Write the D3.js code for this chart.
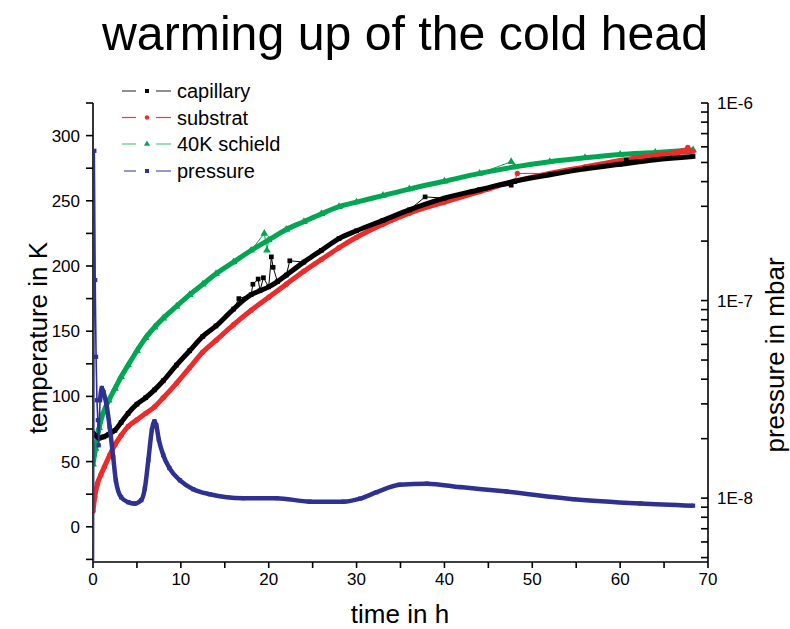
<!DOCTYPE html>
<html>
<head>
<meta charset="utf-8">
<script src="https://cdn.jsdelivr.net/npm/d3@7"></script>
<style>
  html, body { margin: 0; padding: 0; background: #ffffff; }
  svg { display: block; font-family: "Liberation Sans", Arial, sans-serif; }
</style>
</head>
<body>
<svg id="chart" width="790" height="629"></svg>
<script>
// ---- data -------------------------------------------------------------
// time in hours and temperature in K, one pair of arrays per sensor
const capillaryTime = [0, 0.3, 0.7, 1.2, 1.8, 2.5, 3.2, 4, 5, 6, 7, 8, 9.5, 11, 12.5, 14, 16, 18, 19, 20, 21, 22, 24, 26, 28, 30, 33, 36, 40, 44, 48, 52, 56, 60, 64, 68.3];
const capillaryTemp = [72, 70, 68, 69, 71, 74, 80, 87, 94, 99, 105, 112, 124, 135, 146, 154, 167, 178, 181, 184, 188, 193, 203, 212, 221, 227, 235, 243, 252, 258.5, 265, 270, 274.5, 278, 281.5, 284];
// isolated outliers of the capillary sensor
const capillarySpikeTime = [16.6, 18.2, 18.8, 19.4, 20.3, 20.5, 22.4, 37.8, 47.6, 60.7];
const capillarySpikeTemp = [175, 186, 190, 191, 207, 199, 204, 253, 262, 281];

const substratTime = [0, 0.2, 0.5, 0.9, 1.3, 1.9, 2.5, 3.2, 4, 5, 6, 7, 8, 9.5, 11, 12.5, 14, 16, 18, 20, 22, 24, 26, 28, 30, 33, 36, 40, 44, 48, 52, 56, 60, 64, 68.3];
const substratTemp = [12, 23, 33, 40, 46, 55, 63, 70, 77, 82, 87, 92, 99, 110, 122, 134, 143, 155, 166, 176, 186, 196, 205, 214, 222, 232, 240.5, 249, 257, 265, 271, 276, 281, 285, 288];
const substratSpikeTime = [48.3, 67.7];
const substratSpikeTemp = [271, 291];

const shieldTime = [0, 0.3, 0.7, 1.2, 1.8, 2.5, 3.2, 4, 5, 6, 7, 8, 9.5, 11, 12.5, 14, 16, 18, 20, 22, 24, 26, 28, 30, 33, 36, 40, 44, 48, 52, 56, 60, 64, 68.3];
const shieldTemp = [48, 60, 76, 88, 97, 106, 115, 124, 135, 145, 153, 160, 169, 178, 186, 194, 203, 212, 220, 228, 234, 240, 245.5, 249, 254, 259, 265, 271, 276, 280, 283, 285.5, 287, 289];
const shieldSpikeTime = [19.5, 19.8, 47.6];
const shieldSpikeTemp = [225, 212, 280];

// chamber pressure in mbar
const pressureTime = [0.05, 0.15, 0.25, 0.35, 0.45, 0.55, 0.65, 0.8, 1.0, 1.2, 1.5, 1.9, 2.3, 2.6, 3.2, 4.0, 4.7, 5.5, 5.9, 6.3, 6.7, 7.0, 7.2, 7.5, 8.0, 8.7, 9.9, 11.4, 13.3, 17.1, 20.9, 24.7, 28.5, 30.4, 32.3, 34.9, 38, 41.8, 47.1, 54.7, 62.3, 68.3];
const pressureValue = [3.5e-9, 5.73e-7, 1.27e-7, 5.19e-8, 3.13e-8, 2.48e-8, 1.85e-8, 3.13e-8, 3.61e-8, 3.44e-8, 3.03e-8, 2.29e-8, 1.61e-8, 1.23e-8, 1.01e-8, 9.54e-9, 9.38e-9, 9.77e-9, 1.12e-8, 1.56e-8, 2.21e-8, 2.45e-8, 2.34e-8, 1.97e-8, 1.65e-8, 1.42e-8, 1.23e-8, 1.11e-8, 1.047e-8, 1.0e-8, 1.0e-8, 9.6e-9, 9.6e-9, 9.94e-9, 1.072e-8, 1.17e-8, 1.184e-8, 1.137e-8, 1.079e-8, 9.88e-9, 9.4e-9, 9.16e-9];

// axes
const timeTicks = [0, 10, 20, 30, 40, 50, 60, 70];
const tempTicks = [0, 50, 100, 150, 200, 250, 300];
const pressureTicks = [1e-8, 1e-7, 1e-6];
const pressureTickLabels = ["1E-8", "1E-7", "1E-6"];

const seriesNames = ["capillary", "substrat", "40K schield", "pressure"];
const seriesColors = ["#000000", "#ee2a2a", "#00a651", "#2e3192"];
const legendLineColors = ["#444444", "#ee3a3a", "#5cc88c", "#5055a8"];

// ---- layout -----------------------------------------------------------
const svg = d3.select("#chart");
const plotLeft = 93, plotRight = 708, plotTop = 103, plotBottom = 562;

const x = d3.scaleLinear().domain([0, 70]).range([plotLeft, plotRight]);
const yT = d3.scaleLinear().domain([-27, 325]).range([plotBottom, plotTop]);
const yP = d3.scaleLog().domain([4.75e-9, 1e-6]).range([plotBottom, plotTop]);

svg.append("defs").append("clipPath").attr("id", "plotClip")
  .append("rect").attr("x", plotLeft).attr("y", plotTop - 2)
  .attr("width", plotRight - plotLeft).attr("height", plotBottom - plotTop + 2);

// title
svg.append("text")
  .attr("x", 405).attr("y", 50)
  .attr("text-anchor", "middle")
  .attr("font-size", 49)
  .attr("textLength", 606).attr("lengthAdjust", "spacingAndGlyphs")
  .text("warming up of the cold head");

// ---- axes ---------------------------------------------------------------
const axisG = svg.append("g").attr("stroke", "#000").attr("stroke-width", 1.6);

// bottom
axisG.append("line").attr("x1", plotLeft).attr("x2", plotRight).attr("y1", plotBottom).attr("y2", plotBottom);
d3.range(0, 71, 5).forEach(v => {
  axisG.append("line").attr("x1", x(v)).attr("x2", x(v))
    .attr("y1", plotBottom).attr("y2", plotBottom + 6);
});
svg.append("g").selectAll("text").data(timeTicks).join("text")
  .attr("x", d => x(d)).attr("y", 585)
  .attr("text-anchor", "middle").attr("font-size", 17)
  .text(d => d);
svg.append("text").attr("x", 400).attr("y", 623)
  .attr("text-anchor", "middle").attr("font-size", 26)
  .text("time in h");

// left
axisG.append("line").attr("x1", plotLeft).attr("x2", plotLeft).attr("y1", plotTop).attr("y2", plotBottom);
d3.range(-25, 326, 25).forEach(v => {
  axisG.append("line").attr("x1", plotLeft).attr("x2", plotLeft - 7)
    .attr("y1", yT(v)).attr("y2", yT(v));
});
svg.append("g").selectAll("text").data(tempTicks).join("text")
  .attr("x", 80).attr("y", d => yT(d) + 6)
  .attr("text-anchor", "end").attr("font-size", 17)
  .text(d => d);
svg.append("text")
  .attr("transform", "translate(47,338) rotate(-90)")
  .attr("text-anchor", "middle").attr("font-size", 26)
  .text("temperature in K");

// right (log)
axisG.append("line").attr("x1", plotRight).attr("x2", plotRight).attr("y1", plotTop).attr("y2", plotBottom);
const minorP = [];
[1e-9, 1e-8, 1e-7].forEach(dec => {
  for (let k = 1; k <= 9; k++) {
    const v = dec * k;
    if (v >= 4.75e-9 && v <= 1e-6) minorP.push(v);
  }
});
minorP.push(1e-6);
minorP.forEach(v => {
  axisG.append("line").attr("x1", plotRight).attr("x2", plotRight - 7)
    .attr("y1", yP(v)).attr("y2", yP(v));
});
svg.append("g").selectAll("text").data(pressureTicks).join("text")
  .attr("x", 717).attr("y", d => yP(d) + 6)
  .attr("text-anchor", "start").attr("font-size", 17)
  .text((d, i) => pressureTickLabels[i]);
svg.append("text")
  .attr("transform", "translate(784,355) rotate(-90)")
  .attr("text-anchor", "middle").attr("font-size", 26)
  .text("pressure in mbar");

// ---- series -------------------------------------------------------------
const plot = svg.append("g").attr("clip-path", "url(#plotClip)");

function zipPts(ts, vs) { return ts.map((t, i) => ({ t, v: vs[i] })); }

function symbolPath(kind, size) {
  const type = kind === "square" ? d3.symbolSquare : kind === "circle" ? d3.symbolCircle : d3.symbolTriangle;
  return d3.symbol().type(type).size(size)();
}

function drawTemp(base, spikes, color, kind, size) {
  const all = base.concat(spikes).sort((a, b) => a.t - b.t);
  // dense band of readings
  plot.append("path").datum(base)
    .attr("d", d3.line().x(d => x(d.t)).y(d => yT(d.v)).curve(d3.curveMonotoneX))
    .attr("fill", "none").attr("stroke", color).attr("stroke-width", 5)
    .attr("stroke-linejoin", "round");
  // thin connecting line incl. outliers
  plot.append("path").datum(all).attr("d", d3.line().x(d => x(d.t)).y(d => yT(d.v)))
    .attr("fill", "none").attr("stroke", color).attr("stroke-width", 1);
  plot.append("g").selectAll("path").data(all).join("path")
    .attr("transform", d => `translate(${x(d.t)},${yT(d.v)})`)
    .attr("d", symbolPath(kind, size)).attr("fill", color);
}

drawTemp(zipPts(shieldTime, shieldTemp), zipPts(shieldSpikeTime, shieldSpikeTemp), seriesColors[2], "triangle", 26);
drawTemp(zipPts(substratTime, substratTemp), zipPts(substratSpikeTime, substratSpikeTemp), seriesColors[1], "circle", 22);
drawTemp(zipPts(capillaryTime, capillaryTemp), zipPts(capillarySpikeTime, capillarySpikeTemp), seriesColors[0], "square", 22);

// pressure on the logarithmic right axis
const pData = zipPts(pressureTime, pressureValue);
plot.append("path").datum(pData)
  .attr("d", d3.line().x(d => x(d.t)).y(d => yP(d.v)))
  .attr("fill", "none").attr("stroke", seriesColors[3]).attr("stroke-width", 1.6);
plot.append("path").datum(pData.filter(d => d.t >= 0.8))
  .attr("d", d3.line().x(d => x(d.t)).y(d => yP(d.v)).curve(d3.curveMonotoneX))
  .attr("fill", "none").attr("stroke", seriesColors[3]).attr("stroke-width", 4.5)
  .attr("stroke-linejoin", "round");
plot.append("g").selectAll("path").data(pData).join("path")
  .attr("transform", d => `translate(${x(d.t)},${yP(d.v)})`)
  .attr("d", symbolPath("square", 18)).attr("fill", seriesColors[3]);

// ---- legend -------------------------------------------------------------
const legendKinds = ["square", "circle", "triangle", "square"];
const legendY = [91, 117.5, 144, 171];
const legend = svg.append("g");
seriesNames.forEach((name, i) => {
  const yy = legendY[i];
  const x0 = i === 3 ? 124 : 122;
  legend.append("line").attr("x1", x0).attr("x2", 136).attr("y1", yy).attr("y2", yy)
    .attr("stroke", legendLineColors[i]).attr("stroke-width", 1.2);
  legend.append("line").attr("x1", 156).attr("x2", 171).attr("y1", yy).attr("y2", yy)
    .attr("stroke", legendLineColors[i]).attr("stroke-width", 1.2);
  legend.append("path").attr("transform", `translate(147,${yy})`)
    .attr("d", symbolPath(legendKinds[i], 16)).attr("fill", seriesColors[i]);
  legend.append("text").attr("x", 177).attr("y", yy + 7)
    .attr("font-size", 20).text(name);
});
</script>
</body>
</html>
